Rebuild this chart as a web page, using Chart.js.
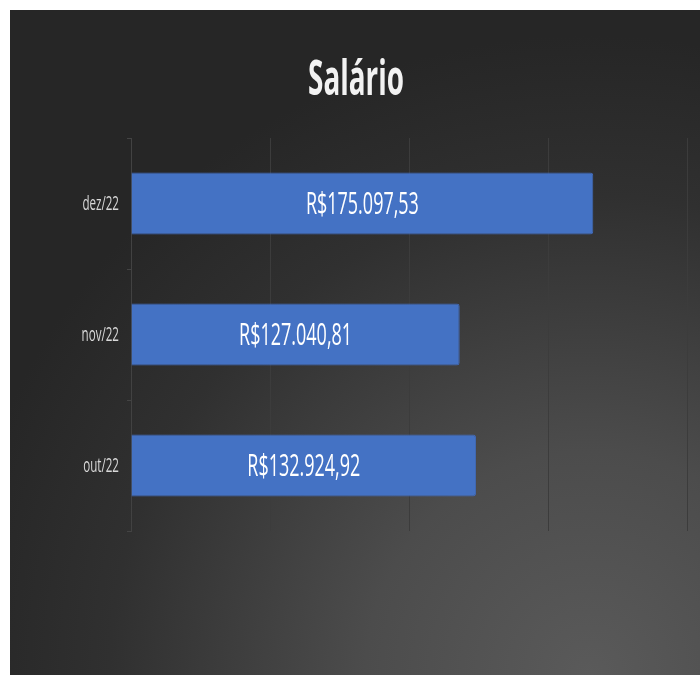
<!DOCTYPE html>
<html>
<head>
<meta charset="utf-8">
<script src="https://cdn.jsdelivr.net/npm/chart.js@4/dist/chart.umd.min.js"></script>
<style>
  html, body { margin: 0; padding: 0; background: #ffffff; }
  #wrap { position: absolute; left: 10px; top: 10px; width: 690px; height: 665px; }
</style>
</head>
<body>
<div id="wrap"><canvas id="c" width="690" height="665"></canvas></div>
<script>
// Monthly salary totals (R$)
const months = ['dez/22', 'nov/22', 'out/22'];
const salaries = [175097.53, 127040.81, 132924.92];
// Value axis: start and gridline positions
const axisMin = 8800;
const axisMax = 208800;
const gridValues = [8800, 58800, 108800, 158800, 208800];
const chartTitle = 'Salário';

const FONT = "'Open Sans', 'Noto Sans', sans-serif";
const NARROW = 0.58; // horizontal squeeze for a condensed look

const fmtBRL = v => 'R$' + v.toLocaleString('pt-BR', { minimumFractionDigits: 2, maximumFractionDigits: 2 });

// condensed text: draw with horizontal scaling around the anchor point
function narrowText(ctx, text, x, y, font, color, align, baseline) {
  ctx.save();
  ctx.font = font;
  ctx.fillStyle = color;
  ctx.textAlign = align;
  ctx.textBaseline = baseline;
  ctx.translate(x, y);
  ctx.scale(NARROW, 1);
  ctx.fillText(text, 0, 0);
  ctx.restore();
}

const background = {
  id: 'background',
  beforeDraw(chart) {
    const { ctx, width, height } = chart;
    const g = ctx.createRadialGradient(width * 0.84, height * 1.0, 0, width * 0.84, height * 1.0, 640);
    g.addColorStop(0, '#5a5a5a');
    g.addColorStop(0.35, '#4c4c4c');
    g.addColorStop(0.75, '#303030');
    g.addColorStop(1, '#262626');
    ctx.save();
    ctx.fillStyle = g;
    ctx.fillRect(0, 0, width, height);
    ctx.restore();
  }
};

const texts = {
  id: 'texts',
  afterDraw(chart) {
    const { ctx, width } = chart;
    // title
    narrowText(ctx, chartTitle, width / 2 + 1, 85, 'bold 48px ' + FONT, '#f2f2f2', 'center', 'alphabetic');
    // category labels
    const ys = chart.scales.y;
    chart.data.labels.forEach((lab, i) => {
      narrowText(ctx, lab, ys.right - 12, ys.getPixelForTick(i) + 1, '20px ' + FONT, '#d9d9d9', 'right', 'middle');
    });
    // value labels centred in each bar
    const meta = chart.getDatasetMeta(0);
    meta.data.forEach((bar, i) => {
      const cx = (bar.x + bar.base) / 2;
      narrowText(ctx, fmtBRL(chart.data.datasets[0].data[i]), cx, bar.y + 2, '31px ' + FONT, '#ffffff', 'center', 'middle');
    });
  }
};

new Chart(document.getElementById('c'), {
  type: 'bar',
  data: {
    labels: months,
    datasets: [{
      data: salaries,
      base: axisMin,
      backgroundColor: '#4472c4',
      borderColor: '#4169b8',
      borderWidth: 1,
      borderRadius: 3,
      borderSkipped: 'start',
      categoryPercentage: 1,
      barPercentage: 0.473
    }]
  },
  options: {
    indexAxis: 'y',
    responsive: false,
    animation: false,
    layout: { padding: { left: 0, right: 13, top: 128, bottom: 0 } },
    plugins: {
      legend: { display: false },
      tooltip: { enabled: false },
      title: { display: false }
    },
    scales: {
      x: {
        min: axisMin,
        max: axisMax,
        afterBuildTicks(scale) { scale.ticks = gridValues.map(v => ({ value: v })); },
        afterFit(scale) { scale.height = 144; },
        ticks: { display: false },
        grid: { color: '#3c3c3c', lineWidth: 1, drawTicks: false },
        border: { display: false }
      },
      y: {
        afterFit(scale) { scale.width = 121; },
        ticks: { display: false },
        grid: { offset: true, drawOnChartArea: false, color: '#444444', tickLength: 4 },
        border: { color: '#424242', width: 1 }
      }
    }
  },
  plugins: [background, texts]
});
</script>
</body>
</html>
